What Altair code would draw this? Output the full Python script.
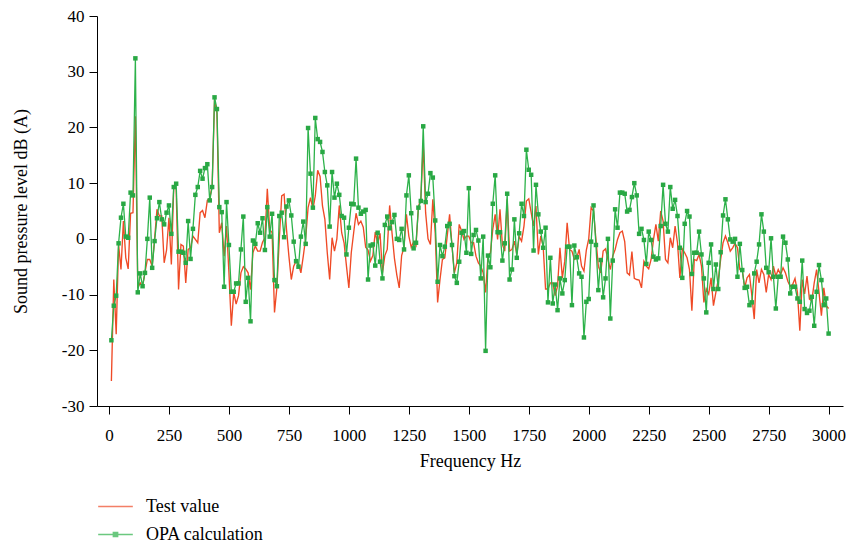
import altair as alt
import pandas as pd

freq = list(range(10, 3001, 10))

opa_calc = [
    -18.2, -12.0, -10.2, -0.8, 3.8, 6.3, 0.4, 0.2, 8.3, 7.8,
    32.4, -9.6, -6.2, -8.5, -6.1, 0.0, 7.4, -5.2, -0.4, 3.7,
    6.6, 3.5, 2.6, 4.7, 6.0, 0.9, 9.3, 9.9, -2.3, -2.3,
    -2.5, -4.3, 3.2, -3.6, 1.8, 7.9, 9.3, 12.2, 10.8, 12.7,
    13.4, 6.9, 9.3, 25.4, 23.3, 5.7, 4.8, -8.6, 6.6, -1.1,
    -9.5, -9.5, -8.0, -8.0, -1.9, 4.0, -11.3, -7.0, -14.8, -0.3,
    -0.9, 2.8, 1.1, 3.7, -2.0, 5.7, 0.4, 4.5, -7.4, -8.5,
    4.1, 4.7, 0.3, 5.8, 6.9, 4.2, -0.5, -4.0, -5.0, 0.4,
    3.1, -0.9, 19.9, 11.7, 5.6, 21.7, 17.9, 17.4, 15.6, 12.0,
    9.6, 2.2, 12.0, 7.4, 9.9, 7.9, 4.1, 3.8, -2.8, 2.0,
    6.3, 6.2, 14.4, 5.6, 4.5, 4.9, 5.2, -7.3, -1.2, -1.0,
    -4.8, 1.1, -4.1, -7.1, 2.5, 4.0, 1.9, 3.0, 4.3, 0.0,
    -0.2, 1.8, -1.9, 7.8, 11.4, 4.6, -1.7, -0.7, 5.6, 6.8,
    20.2, 6.6, 8.1, 11.8, 11.0, 3.3, -7.7, -1.1, -3.1, -1.4,
    2.3, 2.7, -1.1, -6.7, -7.9, -4.1, 1.1, 1.4, -2.5, 9.1,
    -2.7, 0.7, 1.6, -0.3, -7.1, 0.4, -20.1, -3.0, -5.1, 6.3,
    11.4, 1.2, 1.2, -3.9, -0.8, 8.1, -7.3, -5.5, 3.5, -3.4,
    1.0, 6.3, 4.1, 16.0, 12.4, 11.5, -2.1, 9.7, 4.4, 1.3,
    -1.6, 2.0, -11.4, -3.4, -11.6, -8.2, -12.8, -7.1, -9.8, -7.4,
    -1.4, -1.4, -11.9, -1.2, -3.3, -6.2, -6.8, -17.7, -11.3, -10.8,
    -0.5, 6.0, -1.1, -9.2, -3.8, -10.5, -7.1, 0.0, -14.3, -3.9,
    5.3, 2.0, 8.3, 8.3, 8.1, 4.9, 5.2, 7.5, 10.0, 7.8,
    0.9, 1.8, -0.2, -4.5, 1.3, -0.2, -3.2, -3.7, -3.5, 2.3,
    9.7, 2.7, 1.3, 9.3, 5.4, 7.0, 4.1, -1.6, -7.0, 2.7,
    5.0, 4.0, -6.3, -2.5, -2.5, 1.3, -2.8, -7.1, -13.2, -4.3,
    -1.0, -9.0, -4.6, -9.0, -2.4, 4.2, 7.1, 3.5, -0.1, -0.5,
    0.0, -6.8, -0.9, -5.6, -8.8, -8.6, -11.9, -11.4, -6.2, -4.1,
    -1.0, 4.4, 1.3, -5.2, -6.0, 0.1, -6.8, -12.5, -6.8, -6.8,
    0.4, -0.7, -3.7, -9.8, -8.6, -8.6, -10.7, -11.3, -3.9, -12.6,
    -13.3, -12.9, -10.4, -15.6, -9.5, -4.7, -7.4, -11.9, -10.7, -17.0,
]

test_value = [
    -25.5, -7.3, -17.1, -1.0, -5.5, 3.2, -3.4, -5.4, 4.6, 4.7,
    22.0, -8.8, -7.9, -8.5, -6.0, -3.7, -3.7, -4.9, -0.1, 5.3,
    4.1, 4.1, -4.3, -2.0, 3.8, -4.6, 9.4, 9.0, -9.1, -1.0,
    -1.3, -7.9, -1.9, -1.6, 0.5, -0.1, -0.7, 4.7, 5.1, 3.8,
    6.9, 7.3, 9.4, 25.0, 22.6, 1.1, 2.9, -3.1, 2.3, -6.1,
    -15.6, -9.6, -11.7, -10.2, -6.1, -5.0, -5.4, -6.1, -9.1, -2.5,
    -1.3, -2.2, -2.2, -0.6, 0.2, 9.0, 1.7, 1.1, -13.2, -8.7,
    -0.1, 7.7, 8.0, 1.7, -3.1, -7.3, -4.9, -4.0, -4.5, -6.1,
    -3.1, 0.2, 5.6, 7.4, 5.3, 7.7, 12.3, 11.2, 5.9, 3.5,
    -2.5, -7.3, 0.2, -2.2, 0.0, 6.0, 1.1, -0.7, -4.9, -8.8,
    -2.5, 1.1, 4.6, 2.6, 3.2, 2.1, -1.5, -2.0, -4.0, -3.0,
    1.2, -0.8, 1.0, -6.1, -3.0, -1.9, 6.0, 1.0, -3.5, -6.5,
    -8.8, -3.0, -1.5, 4.4, 0.5, -1.5, -0.5, -1.2, 5.8, 7.1,
    17.0, 4.7, 0.0, -1.0, 7.1, 1.0, -11.4, -7.3, -3.7, -3.4,
    0.5, 4.4, -1.3, -6.1, -4.3, 2.6, 1.4, -0.1, 0.5, 0.5,
    -0.7, -0.7, -3.1, -4.3, -4.9, -6.1, -9.6, -3.1, -2.5, 1.7,
    4.4, -0.1, 5.3, -1.0, -2.2, 7.1, -2.2, -1.9, -0.4, -2.8,
    0.4, -0.4, 2.3, 6.8, 7.2, 4.7, 2.3, 5.9, -2.8, 0.5,
    -1.3, -9.0, -9.0, -7.9, -7.9, -10.2, -8.5, -1.6, -7.0, -4.0,
    2.9, -1.9, -2.2, -3.7, -3.4, -1.9, -4.9, -5.8, -2.0, 0.0,
    5.6, 5.0, -0.1, -4.9, -6.1, -2.2, -1.8, -3.7, -5.5, -3.1,
    -1.9, -0.1, 1.1, 1.4, -0.5, -6.1, -6.5, -2.3, -7.1, -7.3,
    -7.4, -8.8, -4.0, -4.9, -5.4, -3.7, -0.1, 2.6, -0.4, 5.0,
    3.2, -3.7, -4.3, 0.2, -1.6, 2.3, -0.7, -7.0, -1.8, -2.5,
    -3.4, -5.5, -12.9, -3.7, -3.9, -2.8, -4.9, -11.4, -9.0, -9.9,
    -7.0, -12.0, -9.6, -7.3, -3.7, -0.7, 0.5, -0.7, -2.2, -1.6,
    -0.8, -1.6, -5.5, -5.5, -8.8, -7.0, -6.4, -10.2, -14.4, -5.5,
    -7.9, -5.5, -6.4, -9.6, -6.4, -7.3, -4.9, -6.7, -5.5, -6.4,
    -5.2, -6.1, -7.6, -8.5, -8.2, -7.1, -9.6, -16.5, -7.3, -9.9,
    -6.7, -10.8, -11.1, -7.9, -5.5, -9.6, -13.8, -8.8, -12.0, -12.5,
]

series_names = ["Test value", "OPA calculation"]
series_colors = ["#EF4A26", "#2DB24A"]
x_ticks = list(range(0, 3001, 125))
y_ticks = list(range(-30, 41, 5))

df = pd.concat([
    pd.DataFrame({"hz": freq, "spl": test_value, "series": "Test value"}),
    pd.DataFrame({"hz": freq, "spl": opa_calc, "series": "OPA calculation"}),
], ignore_index=True)

FONT = "Liberation Serif, DejaVu Serif, serif"

x_enc = alt.X(
    "hz:Q",
    scale=alt.Scale(domain=[-50, 3060], nice=False, zero=False),
    axis=alt.Axis(
        values=x_ticks,
        title="Frequency Hz",
        labelExpr="datum.value % 250 === 0 ? '' + datum.value : ''",
        tickSize={"condition": {"test": "datum.value % 250 === 0", "value": 8}, "value": 5},
        labelOverlap=False,
        labelFlush=False,
        labelPadding=13,
        titlePadding=9,
        grid=False,
    ),
)
y_enc = alt.Y(
    "spl:Q",
    scale=alt.Scale(domain=[-30, 40], nice=False, zero=False),
    axis=alt.Axis(
        values=y_ticks,
        title="Sound pressure level dB (A)",
        labelExpr="datum.value % 10 === 0 ? '' + datum.value : ''",
        tickSize={"condition": {"test": "datum.value % 10 === 0", "value": 8}, "value": 5},
        labelOverlap=False,
        labelFlush=False,
        labelPadding=5,
        titlePadding=31,
        grid=False,
    ),
)

color_scale = alt.Scale(domain=series_names, range=series_colors)

base = alt.Chart(df)

red_line = base.transform_filter(
    alt.datum.series == "Test value"
).mark_line(strokeWidth=1.35, color=series_colors[0]).encode(x=x_enc, y=y_enc)

green_line = base.transform_filter(
    alt.datum.series == "OPA calculation"
).mark_line(strokeWidth=1.3, color=series_colors[1]).encode(x="hz:Q", y="spl:Q")

markers = base.transform_filter(
    alt.datum.series == "OPA calculation"
).mark_square(size=20, opacity=1, color="#29A844").encode(x="hz:Q", y="spl:Q")

legend_path_line = "M-2,0H2"
legend_path_square = "M-2,0H2M-0.25,-0.25H0.25V0.25H-0.25ZM-0.1,-0.1H0.1V0.1H-0.1Z"

legend_cfg = alt.Legend(
    title=None,
    orient="none",
    legendX=9,
    legendY=481,
    direction="vertical",
    symbolSize=300,
    symbolStrokeWidth=1.4,
    labelOffset=21,
    rowPadding=9,
    padding=0,
    labelFont=FONT,
    labelFontSize=18,
    labelColor="#000000",
)

legend_layer = base.transform_filter("datum.hz < 0").mark_point(filled=False).encode(
    x="hz:Q",
    y="spl:Q",
    color=alt.Color("series:N", scale=color_scale, legend=legend_cfg, sort=series_names),
    shape=alt.Shape(
        "series:N",
        scale=alt.Scale(domain=series_names, range=[legend_path_line, legend_path_square]),
        legend=legend_cfg,
        sort=series_names,
    ),
)

chart = alt.layer(red_line, green_line, markers, legend_layer).properties(
    width=746,
    height=390,
    padding={"left": 97, "top": 16, "right": 6, "bottom": 141},
    autosize=alt.AutoSizeParams(type="none"),
    background="#ffffff",
).configure_view(
    stroke=None,
).configure_axis(
    labelFont=FONT,
    labelFontSize=17,
    labelColor="#000000",
    titleFont=FONT,
    titleFontSize=18,
    titleFontWeight="normal",
    titleColor="#000000",
    domainColor="#000000",
    tickColor="#000000",
    domainWidth=1,
    tickWidth=1,
).configure_legend(
    labelFont=FONT,
    labelFontSize=18,
    labelColor="#000000",
)

chart.save("out.html", embed_options={"renderer": "svg", "actions": False})
